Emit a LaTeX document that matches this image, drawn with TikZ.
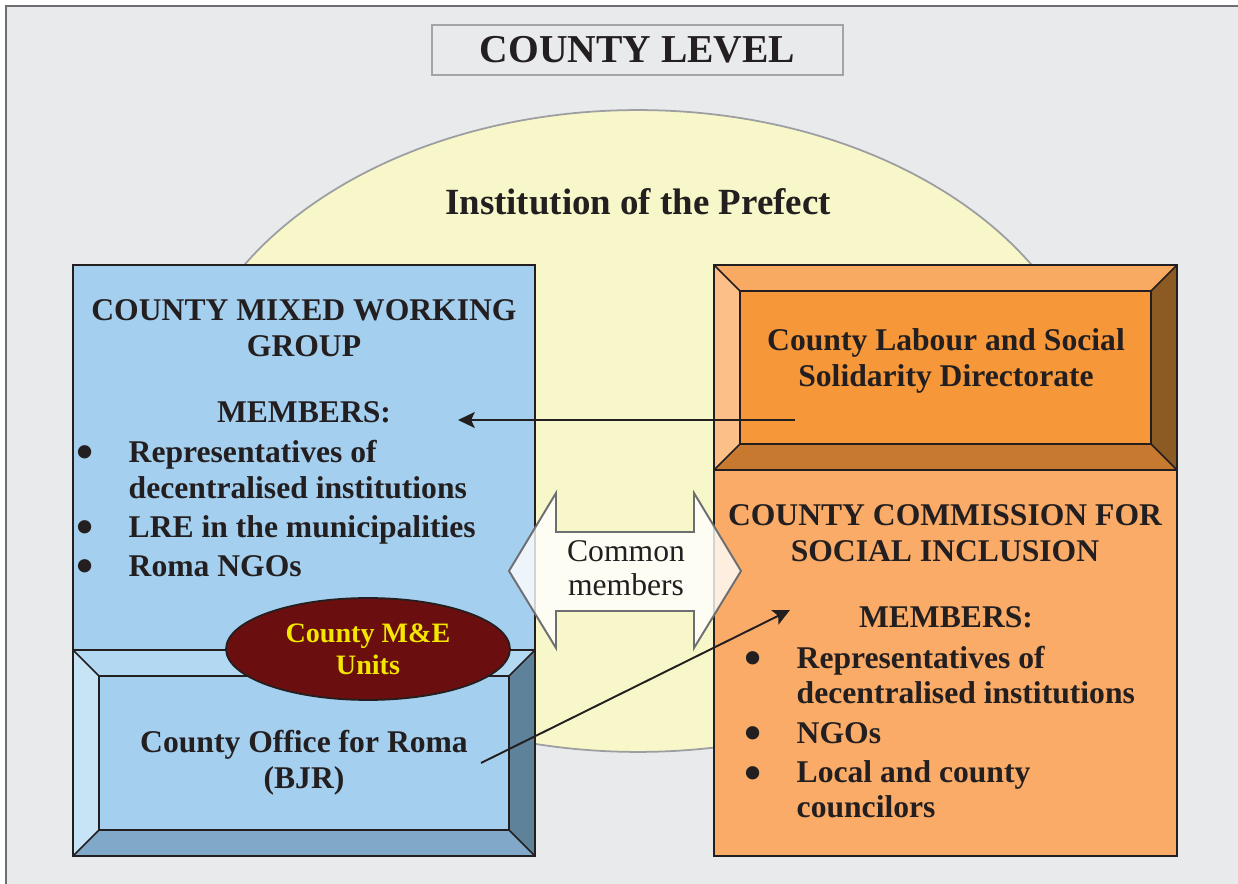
\documentclass[tikz,border=0pt]{standalone}
\usepackage{fontspec}
\setmainfont{Liberation Serif}
\usepackage{xcolor}
\usepackage{tikz}
\usetikzlibrary{arrows.meta,shapes.geometric}

\definecolor{bggray}{HTML}{E9EAEC}
\definecolor{framegray}{HTML}{6D6E71}
\definecolor{titlegray}{HTML}{A3A4A6}
\definecolor{prefectyellow}{HTML}{F8F7C9}
\definecolor{prefectline}{HTML}{9C9EA1}
\definecolor{textdark}{HTML}{231F20}
\definecolor{groupblue}{HTML}{A5CFEE}
\definecolor{bjrtop}{HTML}{B3D9F2}
\definecolor{bjrleft}{HTML}{C7E4F7}
\definecolor{bjrright}{HTML}{5E8299}
\definecolor{bjrbottom}{HTML}{80A8C8}
\definecolor{bjrface}{HTML}{A5CFEE}
\definecolor{dirtop}{HTML}{F8AA63}
\definecolor{dirleft}{HTML}{FBBF87}
\definecolor{dirright}{HTML}{8C5A23}
\definecolor{dirbottom}{HTML}{C77A2F}
\definecolor{dirface}{HTML}{F6973A}
\definecolor{commorange}{HTML}{F9AB67}
\definecolor{mered}{HTML}{6B0E0F}
\definecolor{meyellow}{HTML}{F3E600}

\tikzset{
outerframe/.style = {fill=bggray, draw=framegray, line width=1.2pt},
titlebox/.style = {rectangle, draw=titlegray, fill=bggray, line width=1pt, minimum width=8.22cm, minimum height=1cm, font=\fontsize{22.5}{26}\selectfont\bfseries, text=textdark},
headtext/.style = {font=\fontsize{18}{20.4}\selectfont\bfseries, align=center, inner sep=0pt, text=textdark},
listtext/.style = {font=\fontsize{18}{20.4}\selectfont\bfseries, align=left, inner sep=0pt, text=textdark},
boxline/.style = {draw=textdark, line width=1.1pt},
linkarrow/.style = {draw=textdark, line width=1.1pt, -{Stealth[length=9.5pt, width=9pt, inset=2pt]}},
meunit/.style = {ellipse, fill=mered, draw=textdark, line width=1pt, minimum width=5.68cm, minimum height=2.04cm, inner sep=0pt, align=center, font=\fontsize{16}{18.1}\selectfont\bfseries, text=meyellow},
commonshape/.style = {fill=white, fill opacity=0.8, draw=framegray, line width=1.1pt},
}

% bevelled box: x0, y0, x1, y1, depth, colour prefix
\newcommand{\bevelbox}[6]{%
  \fill[#6top] (#1,#2) -- (#3,#2) -- ({#3-#5},{#2+#5}) -- ({#1+#5},{#2+#5}) -- cycle;
  \fill[#6left] (#1,#2) -- ({#1+#5},{#2+#5}) -- ({#1+#5},{#4-#5}) -- (#1,#4) -- cycle;
  \fill[#6right] (#3,#2) -- (#3,#4) -- ({#3-#5},{#4-#5}) -- ({#3-#5},{#2+#5}) -- cycle;
  \fill[#6bottom] (#1,#4) -- (#3,#4) -- ({#3-#5},{#4-#5}) -- ({#1+#5},{#4-#5}) -- cycle;
  \filldraw[fill=#6face, draw=textdark, line width=0.9pt] ({#1+#5},{#2+#5}) rectangle ({#3-#5},{#4-#5});
  \draw[textdark, line width=0.9pt] (#1,#2) -- ({#1+#5},{#2+#5}) (#3,#2) -- ({#3-#5},{#2+#5})
    (#1,#4) -- ({#1+#5},{#4-#5}) (#3,#4) -- ({#3-#5},{#4-#5});
  \draw[boxline] (#1,#2) rectangle (#3,#4);
}
\newcommand{\listbul}{\makebox[29.8pt][l]{\raisebox{-0.2em}{\scalebox{1.55}{\textbullet}}}}
\newcommand{\listind}{\hspace*{29.8pt}}

\begin{document}
\begin{tikzpicture}[x=0.02cm, y=-0.02cm]
\useasboundingbox (0,0) rectangle (1238,884);
\fill[white] (0,0) rectangle (1238,884);
\draw[outerframe] (6,6) rectangle (1280,920);

\node[titlebox] (level) at (637.5,50) {COUNTY LEVEL};

% institution of the prefect
\filldraw[fill=prefectyellow, draw=prefectline, line width=1pt] (638,431) ellipse [x radius=9.2cm, y radius=6.42cm];
\node[headtext, font=\fontsize{21}{24}\selectfont\bfseries, anchor=base] (prefect) at (638,215) {Institution of the Prefect};

% county mixed working group
\filldraw[fill=groupblue, boxline] (73,265) rectangle (535,856);
\bevelbox{73}{650}{535}{856}{26}{bjr}
\node[headtext, anchor=north] (grouptitle) at (304,299) {COUNTY MIXED WORKING\\GROUP};
\node[headtext, anchor=base] (groupmembers) at (304,423) {MEMBERS:};
\node[listtext, anchor=north west] (grouplist) at (76,440) {\listbul Representatives of\\ \listind decentralised institutions\\[1.7pt] \listbul LRE in the municipalities\\[1.7pt] \listbul Roma NGOs};
\node[headtext, anchor=north] (bjr) at (304,730) {County Office for Roma\\(BJR)};
\node[meunit] (meunits) at (368,649) {County M\&E\\Units};

% county commission for social inclusion
\filldraw[fill=commorange, boxline] (714,470) rectangle (1177,856);
\bevelbox{714}{265}{1177}{470}{26}{dir}
\node[headtext, anchor=north] (directorate) at (946,328) {County Labour and Social\\Solidarity Directorate};
\node[headtext, anchor=north] (commtitle) at (945,504) {COUNTY COMMISSION FOR\\SOCIAL INCLUSION};
\node[headtext, anchor=base] (commmembers) at (946,628) {MEMBERS:};
\node[listtext, font=\fontsize{18}{19.8}\selectfont\bfseries, anchor=north west] (commlist) at (744,646) {\listbul Representatives of\\ \listind decentralised institutions\\[2.8pt] \listbul NGOs\\[2.8pt] \listbul Local and county\\ \listind councilors};

% links
\coordinate (dirout) at (795,420);
\coordinate (groupin) at (458,420);
\coordinate (bjrout) at (481,763);
\coordinate (commin) at (790,610);
\draw[linkarrow] (dirout) -- (groupin);
\draw[linkarrow] (bjrout) -- (commin);

% common members
\draw[commonshape] (509,571) -- (556,493) -- (556,532) -- (694,532) -- (694,493) -- (741,571) -- (694,648) -- (694,611) -- (556,611) -- (556,648) -- cycle;
\node[headtext, font=\fontsize{18}{19.3}\selectfont, anchor=north] (common) at (626,540) {Common\\members};
\end{tikzpicture}
\end{document}
